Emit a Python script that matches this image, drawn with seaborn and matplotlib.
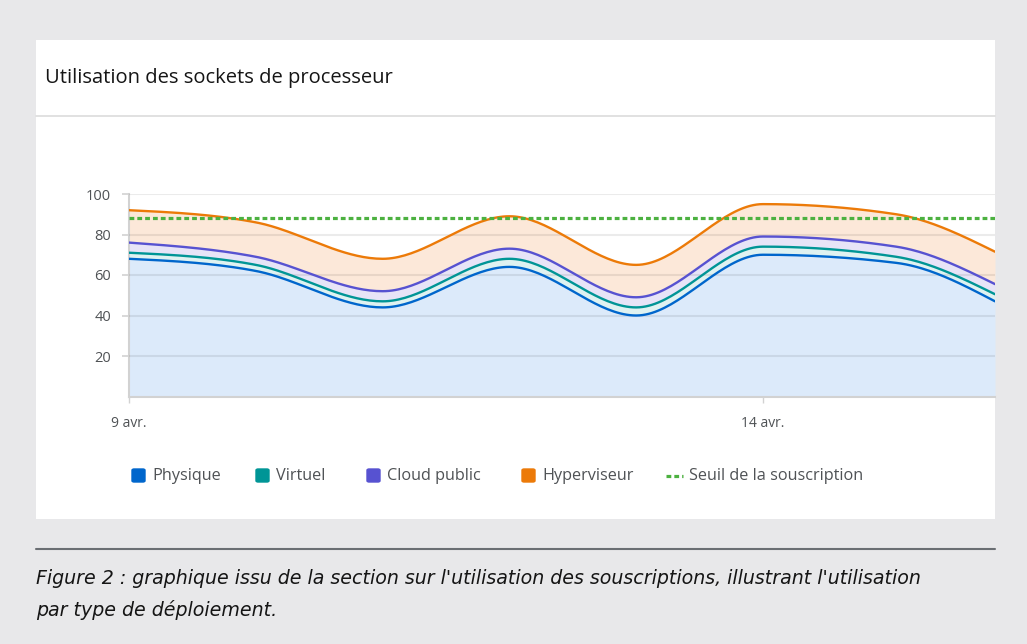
import numpy as np
import matplotlib.pyplot as plt
import seaborn as sns
from matplotlib.lines import Line2D
from matplotlib.patches import Rectangle, FancyBboxPatch

# positions des points (jours d'avril) et valeurs
jours = [9, 10, 11, 12, 13, 14, 15.05, 15.83]
physique = [68, 62, 44, 64, 40, 70, 66, 47]
virtuel = [71, 65, 47, 68, 44, 74, 69, 50.5]
cloud_public = [76, 69, 52, 73, 49, 79, 74, 55.5]
hyperviseur = [92, 86, 68, 89, 65, 95, 90, 71.5]
seuil = 88

noms = ["Physique", "Virtuel", "Cloud public", "Hyperviseur"]
couleurs = ["#0066cc", "#009596", "#5752d1", "#ec7a08"]
remplissages = ["#dceafa", "#dff2f1", "#e7e4f7", "#fce8d9"]
ticks_x = [9, 14]
labels_x = ["9 avr.", "14 avr."]
ticks_y = [20, 40, 60, 80, 100]


def monotone_x(x, y, n=40):
    # courbe monotone (comme d3.curveMonotoneX) pour le rendu des lignes
    x = np.asarray(x, float)
    y = np.asarray(y, float)
    h = np.diff(x)
    s = np.diff(y) / h
    t = np.zeros_like(y)
    for i in range(1, len(y) - 1):
        p = (s[i - 1] * h[i] + s[i] * h[i - 1]) / (h[i - 1] + h[i])
        sg = (1 if s[i - 1] >= 0 else -1) + (1 if s[i] >= 0 else -1)
        t[i] = sg * min(abs(s[i - 1]), abs(s[i]), 0.5 * abs(p))
    t[0] = (3 * s[0] - t[1]) / 2
    t[-1] = (3 * s[-1] - t[-2]) / 2
    xs, ys = [], []
    for i in range(len(h)):
        u = np.linspace(0, 1, n, endpoint=(i == len(h) - 1))
        h00 = 2 * u**3 - 3 * u**2 + 1
        h10 = u**3 - 2 * u**2 + u
        h01 = -2 * u**3 + 3 * u**2
        h11 = u**3 - u**2
        xs.append(x[i] + u * h[i])
        ys.append(h00 * y[i] + h10 * h[i] * t[i] + h01 * y[i + 1] + h11 * h[i] * t[i + 1])
    return np.concatenate(xs), np.concatenate(ys)


sns.set_theme(style="white")
plt.rcParams['font.family'] = ['Open Sans', 'DejaVu Sans']

W, H = 1027, 644
fig = plt.figure(figsize=(W / 100, H / 100), dpi=100)
fig.patch.set_facecolor('#e8e8ea')


def fx(px):
    return px / W


def fy(py):
    return 1 - py / H


# carte blanche + titre
fig.add_artist(Rectangle((fx(36), fy(519)), fx(995) - fx(36), fy(40) - fy(519),
                         transform=fig.transFigure, facecolor='white', edgecolor='none', zorder=0))
fig.add_artist(Line2D([fx(36), fx(995)], [fy(116), fy(116)], color='#dcdcdc', lw=1.2))
fig.text(fx(45), fy(78), "Utilisation des sockets de processeur", fontsize=14.5,
         color='#151515', va='center')

ax = fig.add_axes([fx(129), fy(396.5), fx(995) - fx(129), fy(194) - fy(396.5)])
ax.set_facecolor('white')

series = [physique, virtuel, cloud_public, hyperviseur]
prev = None
for nom, vals, c, fc in zip(noms, series, couleurs, remplissages):
    xs, ys = monotone_x(jours, vals)
    base = np.zeros_like(ys) if prev is None else prev
    ax.fill_between(xs, base, ys, color=fc, lw=0, zorder=1)
    sns.lineplot(x=xs, y=ys, ax=ax, color=c, lw=1.7, zorder=4, sort=False)
    prev = ys

ax.axhline(seuil, color='#4cb140', lw=2.3, linestyle=(0, (1.5, 0.95)), zorder=5)

ax.set_xlim(jours[0], jours[-1])
ax.set_ylim(0, 100)
ax.set_xticks(ticks_x)
ax.set_xticklabels(labels_x)
ax.set_yticks(ticks_y)
ax.set_axisbelow(False)
ax.yaxis.grid(True, color='#000000', alpha=0.08, lw=1.5)
ax.xaxis.grid(False)
for sp in ['top', 'right']:
    ax.spines[sp].set_visible(False)
for sp in ['left', 'bottom']:
    ax.spines[sp].set_color('#d2d2d2')
    ax.spines[sp].set_linewidth(1.5)
ax.tick_params(axis='y', left=True, length=5, width=1.2, color='#d2d2d2',
               labelsize=10.5, labelcolor='#4f5255', pad=8)
ax.tick_params(axis='x', bottom=True, length=4, width=1, color='#d2d2d2',
               labelsize=10, labelcolor='#4f5255', pad=10)
ax.set_xlabel("")
ax.set_ylabel("")

# légende
pos_leg = [131, 255, 366, 521]
for x0, nom, c in zip(pos_leg, noms, couleurs):
    fig.add_artist(FancyBboxPatch((fx(x0 + 1), fy(482)), fx(13), fy(469) - fy(482),
                                  boxstyle="round,pad=0,rounding_size=0.002",
                                  transform=fig.transFigure, facecolor=c, edgecolor=c, lw=1))
    fig.text(fx(x0 + 21), fy(476), nom, fontsize=11.7, color='#4f5255', va='center')
fig.add_artist(Line2D([fx(666), fx(683)], [fy(476), fy(476)], color='#4cb140', lw=2.3,
                      linestyle=(0, (1.5, 0.95))))
fig.text(fx(689), fy(476), "Seuil de la souscription", fontsize=11.7, color='#4f5255', va='center')

# légende de figure
fig.add_artist(Line2D([fx(36), fx(995)], [fy(549), fy(549)], color='#6a6e73', lw=1.5))
cap_font = ['DejaVu Sans']
fig.text(fx(36), fy(579), "Figure 2 : graphique issu de la section sur l'utilisation des souscriptions, "
         "illustrant l'utilisation", fontsize=13.7, style='italic', family=cap_font,
         color='#151515', va='center')
fig.text(fx(36), fy(610), "par type de déploiement.", fontsize=13.7, style='italic',
         family=cap_font, color='#151515', va='center')

fig.savefig('out.png', dpi=100)
